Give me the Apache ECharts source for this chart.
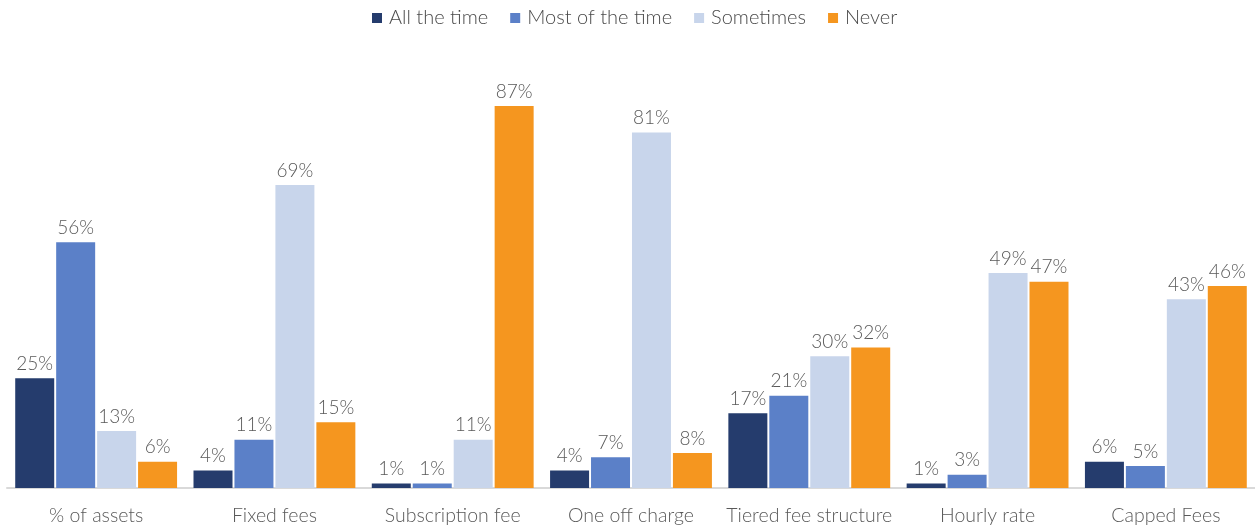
<!DOCTYPE html>
<html>
<head>
<meta charset="utf-8">
<script src="https://cdn.jsdelivr.net/npm/echarts@6/dist/echarts.min.js"></script>
<style>
  html, body { margin: 0; padding: 0; background: #ffffff; }
  #chart { width: 1255px; height: 528px; }
</style>
</head>
<body>
<div id="chart"></div>
<script>
// Fee structure usage by frequency
const categories = ['% of assets', 'Fixed fees', 'Subscription fee', 'One off charge', 'Tiered fee structure', 'Hourly rate', 'Capped Fees'];
const allTheTime = [25, 4, 1, 4, 17, 1, 6];
const mostOfTheTime = [56, 11, 1, 7, 21, 3, 5];
const sometimes = [13, 69, 11, 81, 30, 49, 43];
const never = [6, 15, 87, 8, 32, 47, 46];

const seriesNames = ['All the time', 'Most of the time', 'Sometimes', 'Never'];
const seriesColors = ['#253C6D', '#5B80C8', '#C8D5EB', '#F5961F'];
const seriesData = [allTheTime, mostOfTheTime, sometimes, never];

const font = 'Lato, "Open Sans", sans-serif';
const textColor = '#595959';

const chart = echarts.init(document.getElementById('chart'), null, { renderer: 'canvas' });
chart.setOption({
  animation: false,
  textStyle: { fontFamily: font },
  legend: {
    top: 3,
    left: 367,
    itemWidth: 10,
    itemHeight: 10,
    itemGap: 22,
    icon: 'rect',
    textStyle: { fontFamily: font, fontSize: 20, fontWeight: 300, color: '#4a4a4a', padding: [0, 0, 0, 2] },
    data: seriesNames
  },
  grid: { left: 7, right: 0, top: 49, bottom: 40, containLabel: false },
  xAxis: {
    type: 'category',
    data: categories,
    axisLine: { lineStyle: { color: '#D9D9D9', width: 2 } },
    axisTick: { show: false },
    axisLabel: { interval: 0, fontFamily: font, fontSize: 19.5, fontWeight: 300, color: textColor, margin: 18 }
  },
  yAxis: {
    type: 'value',
    min: 0,
    max: 100,
    show: false,
    splitLine: { show: false }
  },
  series: seriesNames.map((name, i) => ({
    name: name,
    type: 'bar',
    data: seriesData[i],
    barWidth: 39,
    barGap: '5%',
    itemStyle: { color: seriesColors[i] },
    label: {
      show: true,
      position: 'top',
      distance: 5,
      formatter: '{c}%',
      fontFamily: font,
      fontSize: 19,
      fontWeight: 300,
      color: textColor
    }
  }))
});
</script>
</body>
</html>
